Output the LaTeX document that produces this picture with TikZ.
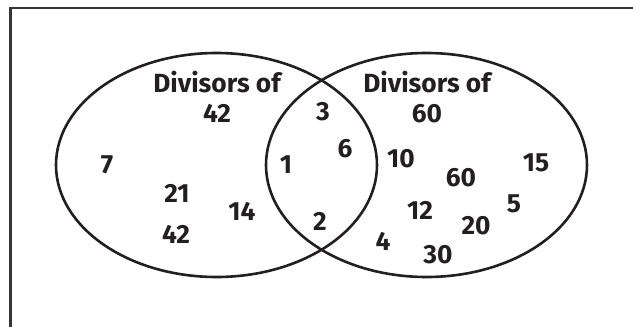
\documentclass[tikz,border=0pt]{standalone}
\usepackage{fontspec}
\setmainfont{Fira Sans}
\usetikzlibrary{shapes.geometric}
\definecolor{ink}{HTML}{231F20}
\begin{document}
\begin{tikzpicture}[x=1pt,y=-1pt,
  lab/.style={anchor=base,inner sep=0pt,text=ink,font=\fontsize{26.3}{30}\selectfont\bfseries},
  setline/.style={draw=ink,line width=2.6pt,ellipse,minimum width=321pt,minimum height=224pt,inner sep=0pt},
  framel/.style={draw=ink!90,line width=2.6pt}]
\useasboundingbox (0,0) rectangle (633,327);
\coordinate (fb) at (10.5,327);
\coordinate (fc) at (10.5,8);
\coordinate (fr) at (633,8);
\draw[framel] (fb) -- (fc) -- (fr);
\node[setline] (A) at (216.5,165) {};
\node[setline] (B) at (426.5,165) {};
\node[lab] (ta) at (217,92) {Divisors of};
\node[lab] (tb) at (217,122) {42};
\node[lab] (tc) at (427,92) {Divisors of};
\node[lab] (td) at (427,122) {60};
\node[lab] (n7) at (107,173) {7};
\node[lab] (n21) at (177,202) {21};
\node[lab] (n42) at (176,243) {42};
\node[lab] (n14) at (242,220) {14};
\node[lab] (n3) at (323,120) {3};
\node[lab] (n6) at (345,157) {6};
\node[lab] (n1) at (286,173) {1};
\node[lab] (n2) at (320,230) {2};
\node[lab] (n10) at (401,167) {10};
\node[lab] (n60) at (461,186) {60};
\node[lab] (n15) at (536,171) {15};
\node[lab] (n5) at (514,212) {5};
\node[lab] (n20) at (476,234) {20};
\node[lab] (n12) at (420,219) {12};
\node[lab] (n4) at (383,250) {4};
\node[lab] (n30) at (438,263) {30};
\end{tikzpicture}
\end{document}
